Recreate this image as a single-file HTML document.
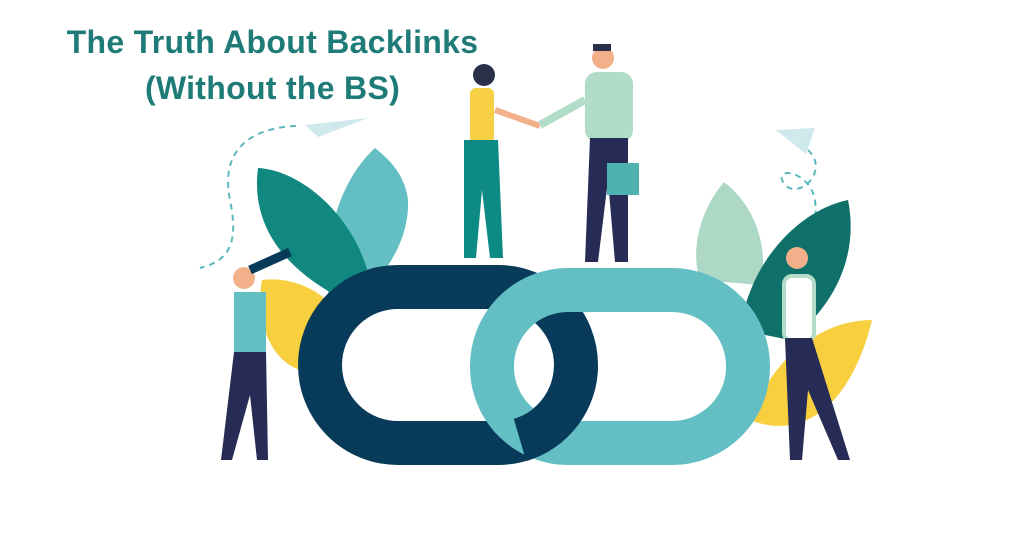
<!DOCTYPE html>
<html><head><meta charset="utf-8"><style>
html,body{margin:0;padding:0;background:#fff;}
body{width:1024px;height:538px;overflow:hidden;position:relative;font-family:"Liberation Sans",sans-serif;}
.t{position:absolute;left:0;width:545px;text-align:center;color:#1e7b78;font-weight:bold;font-size:32px;line-height:46px;letter-spacing:0.3px;}
</style></head><body>
<svg width="1024" height="538" style="position:absolute;left:0;top:0">
<path d="M296 126 C250 128 220 150 230 200 C238 240 232 260 200 268" fill="none" stroke="#5bb8bb" stroke-width="2" stroke-dasharray="6 5"/>
<path d="M808 150 C830 170 800 200 785 185 C770 165 810 170 815 200 C818 230 810 250 805 260" fill="none" stroke="#5bb8bb" stroke-width="2" stroke-dasharray="6 5"/>
<polygon points="305,125 368,118 318,137" fill="#cfe9ec"/>
<polygon points="776,130 815,128 806,154" fill="#cfe9ec"/>
<path d="M375 148 C340 180 320 240 330 310 C370 300 410 250 408 200 C405 175 390 160 375 148Z" fill="#63bfc3"/>
<path d="M258 168 C300 170 355 215 370 280 L335 295 C290 270 250 230 258 168Z" fill="#10887f"/>
<path d="M262 280 C300 275 335 300 340 320 L300 370 C270 360 255 320 262 280Z" fill="#f8cf3f"/>
<path d="M724 182 C700 210 690 250 700 280 L760 285 C770 250 755 205 724 182Z" fill="#aed8c6"/>
<path d="M848 200 C800 210 750 260 740 330 L790 340 C830 310 860 260 848 200Z" fill="#0f6f69"/>
<path d="M872 320 C820 320 770 360 750 420 C800 440 850 410 872 320Z" fill="#f8cf3f"/>
<rect x="320" y="287" width="256" height="156" rx="78" fill="none" stroke="#083a5a" stroke-width="44"/>
<rect x="492" y="290" width="256" height="153" rx="76" fill="none" stroke="#63bfc3" stroke-width="44"/>
<path d="M576 365 A78 78 0 0 1 520 440" fill="none" stroke="#083a5a" stroke-width="44"/>
<circle cx="484" cy="75" r="11" fill="#2a2f4a"/>
<rect x="470" y="88" width="24" height="55" rx="6" fill="#f7d143"/>
<path d="M495 110 L540 126" stroke="#f2b08a" stroke-width="6"/>
<path d="M464 140 L498 140 L503 258 L490 258 L482 190 L476 258 L464 258Z" fill="#0e8a84"/>
<circle cx="603" cy="58" r="11" fill="#f2b08a"/>
<rect x="593" y="44" width="18" height="7" fill="#2a2f4a"/>
<rect x="585" y="72" width="48" height="70" rx="12" fill="#b0dcc8"/>
<path d="M585 100 L540 125" stroke="#b0dcc8" stroke-width="8"/>
<path d="M590 138 L628 138 L628 262 L615 262 L608 180 L598 262 L585 262Z" fill="#262c55"/>
<rect x="607" y="163" width="32" height="32" fill="#4fb2b1"/>
<circle cx="244" cy="278" r="11" fill="#f2b08a"/>
<path d="M250 270 L290 252" stroke="#083a5a" stroke-width="9"/>
<rect x="234" y="292" width="32" height="62" fill="#63bfc3"/>
<path d="M234 352 L266 352 L268 460 L257 460 L250 395 L232 460 L221 460Z" fill="#262c55"/>
<circle cx="797" cy="258" r="11" fill="#f2b08a"/>
<rect x="784" y="276" width="30" height="65" rx="8" fill="#fff" stroke="#b0dcc8" stroke-width="4"/>
<path d="M785 338 L812 338 L850 460 L838 460 L808 390 L802 460 L790 460Z" fill="#262c55"/>
</svg>
<div class="t" style="top:19px">The Truth About Backlinks</div>
<div class="t" style="top:65px">(Without the BS)</div>
</body></html>
